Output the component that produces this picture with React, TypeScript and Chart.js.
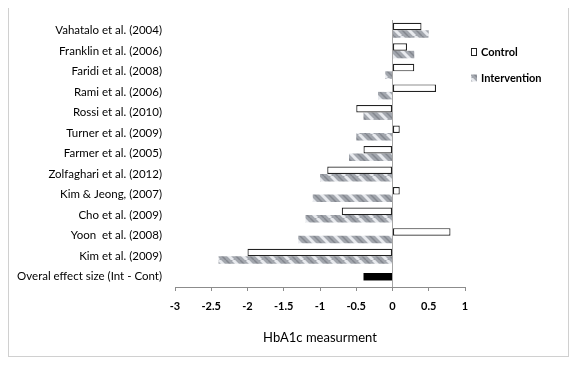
import React, { useEffect, useRef } from "react";
import { Chart, registerables } from "chart.js";

Chart.register(...registerables);

const studies = [
  "Vahatalo et al. (2004)",
  "Franklin et al. (2006)",
  "Faridi et al. (2008)",
  "Rami et al. (2006)",
  "Rossi et al. (2010)",
  "Turner et al. (2009)",
  "Farmer et al. (2005)",
  "Zolfaghari et al. (2012)",
  "Kim & Jeong, (2007)",
  "Cho et al. (2009)",
  "Yoon  et al. (2008)",
  "Kim et al. (2009)",
  "Overal effect size (Int - Cont)",
];

const controlValues = [0.4, 0.2, 0.3, 0.6, -0.5, 0.1, -0.4, -0.9, 0.1, -0.7, 0.8, -2.0, null];
const interventionValues = [0.5, 0.3, -0.1, -0.2, -0.4, -0.5, -0.6, -1.0, -1.1, -1.2, -1.3, -2.4, null];
const overallValues = [null, null, null, null, null, null, null, null, null, null, null, null, -0.4];

const xTicks = [-3, -2.5, -2, -1.5, -1, -0.5, 0, 0.5, 1];

const labelFont = "Lato, 'Roboto', sans-serif";

function makePattern(): CanvasPattern | string {
  const c = document.createElement("canvas");
  const s = 14;
  c.width = s;
  c.height = s;
  const g = c.getContext("2d");
  if (!g) return "#a0a4ac";
  g.fillStyle = "#a3a7ae";
  g.fillRect(0, 0, s, s);
  g.strokeStyle = "rgba(240,242,245,0.9)";
  g.lineWidth = 3;
  for (let k = -1; k <= 1; k++) {
    g.beginPath();
    g.moveTo(k * s, 0);
    g.lineTo(k * s + s, s);
    g.stroke();
  }
  g.strokeStyle = "rgba(110,114,122,0.6)";
  g.lineWidth = 1.5;
  for (let k = -1; k <= 1; k++) {
    g.beginPath();
    g.moveTo(k * s + s / 2, 0);
    g.lineTo(k * s + s / 2 + s, s);
    g.stroke();
  }
  const p = g.createPattern(c, "repeat");
  return p || "#a0a4ac";
}

export default function App() {
  const ref = useRef<HTMLCanvasElement | null>(null);

  useEffect(() => {
    if (!ref.current) return;
    const pattern = makePattern();

    const legendPlugin = {
      id: "customLegend",
      afterDraw(chart: any) {
        const ctx = chart.ctx;
        ctx.save();
        const items = [
          { label: chart.data.datasets[0].label, fill: "#ffffff", y: 44 },
          { label: chart.data.datasets[1].label, fill: pattern, y: 70 },
        ];
        items.forEach((it, i) => {
          const x = 462;
          ctx.fillStyle = it.fill;
          ctx.fillRect(x, it.y - 3.5, 6, 7);
          if (i === 0) {
            ctx.strokeStyle = "#222";
            ctx.lineWidth = 1;
            ctx.strokeRect(x + 0.5, it.y - 3.5, 5, 7);
          }
          ctx.fillStyle = "#000";
          ctx.font = "bold 11px " + labelFont;
          ctx.textBaseline = "middle";
          ctx.textAlign = "left";
          ctx.fillText(it.label, x + 10, it.y);
        });
        ctx.restore();
      },
    };

    const chart = new Chart(ref.current, {
      type: "bar",
      data: {
        labels: studies,
        datasets: [
          {
            label: "Control",
            data: controlValues as any,
            backgroundColor: "#ffffff",
            borderColor: "#222222",
            borderWidth: 1.2,
            borderSkipped: false,
            categoryPercentage: 0.73,
            barPercentage: 1,
          },
          {
            label: "Intervention",
            data: interventionValues as any,
            backgroundColor: pattern as any,
            borderWidth: 0,
            categoryPercentage: 0.73,
            barPercentage: 1,
          },
          {
            label: "Overall",
            data: overallValues as any,
            backgroundColor: "#000000",
            borderWidth: 0,
            grouped: false,
            categoryPercentage: 0.73,
            barPercentage: 0.5,
          } as any,
        ],
      },
      options: {
        indexAxis: "y",
        animation: false,
        responsive: false,
        maintainAspectRatio: false,
        layout: { padding: { top: 12, right: 103, left: 0, bottom: 0 } },
        plugins: {
          legend: { display: false },
          tooltip: { enabled: false },
        },
        scales: {
          x: {
            min: -3,
            max: 1,
            afterBuildTicks(scale: any) {
              scale.ticks = xTicks.map((v) => ({ value: v }));
            },
            afterFit(scale: any) {
              scale.height = 69;
            },
            grid: {
              color: (c: any) => (c.tick && c.tick.value === 0 ? "#a6a6a6" : "rgba(0,0,0,0)"),
              tickColor: "#8c8c8c",
              tickLength: 4,
              lineWidth: 1,
            },
            border: { display: true, color: "#8c8c8c" },
            ticks: {
              color: "#000",
              font: { family: labelFont, size: 11, weight: "bold" },
              padding: 9,
              maxRotation: 0,
              callback: (v: any) => String(v),
            },
            title: {
              display: true,
              text: "HbA1c measurment",
              color: "#000",
              font: { family: labelFont, size: 13 },
              padding: { top: 0, bottom: 10 },
            },
          },
          y: {
            afterFit(scale: any) {
              scale.width = 166;
            },
            grid: {
              display: true,
              drawOnChartArea: false,
              drawTicks: true,
              tickLength: 10,
              color: "rgba(0,0,0,0)",
              tickColor: "rgba(0,0,0,0)",
            },
            border: { display: false },
            ticks: {
              color: "#000",
              font: { family: labelFont, size: 11.5 },
              padding: 3,
              autoSkip: false,
            },
          },
        },
      },
      plugins: [legendPlugin],
    } as any);

    return () => chart.destroy();
  }, []);

  return (
    <div
      style={{
        width: 561,
        height: 350,
        border: "1px solid #d0d0d0",
        boxSizing: "border-box",
        marginTop: -1,
        background: "#fff",
      }}
    >
      <canvas ref={ref} width={559} height={348} style={{ display: "block" }} />
    </div>
  );
}
